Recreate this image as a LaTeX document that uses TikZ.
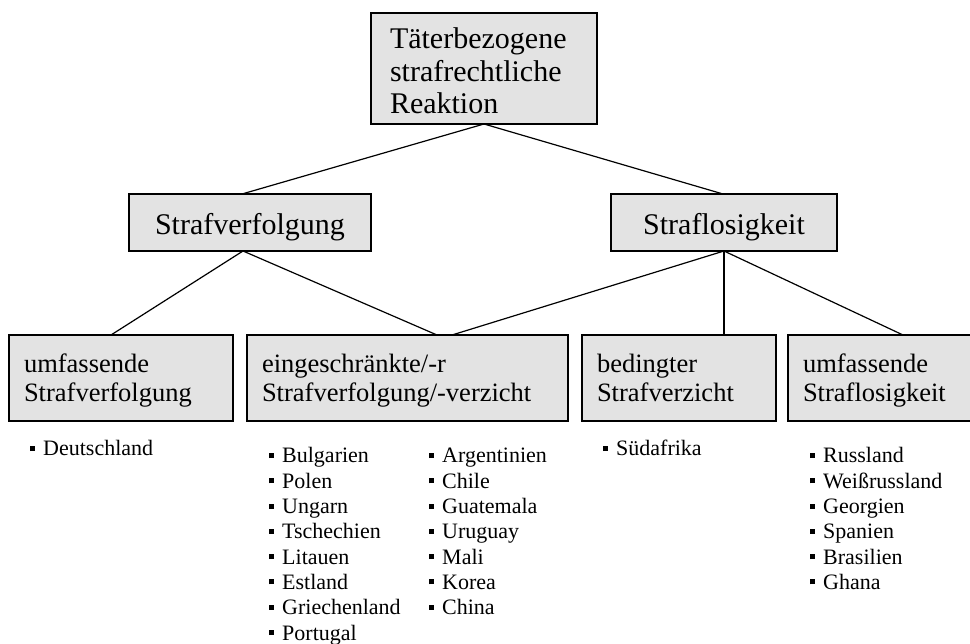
\documentclass[tikz,border=0pt]{standalone}
\usepackage{fontspec}
\setmainfont{Liberation Serif}
\definecolor{boxgray}{HTML}{E3E3E3}
\newcommand\bu{\makebox[13pt][l]{\raisebox{5pt}{\rule{5pt}{5pt}}}}
\begin{document}
\begin{tikzpicture}[x=1pt,y=-1pt,
  box/.style={draw=black, line width=1.3pt, fill=boxgray, inner sep=0pt, outer sep=0pt},
  topbox/.style={box, font=\fontsize{30}{32.5}\selectfont, text width=188pt, inner xsep=19pt,
     align=left, minimum height=111pt, text height=31pt, text depth=70pt},
  midbox/.style={box, font=\fontsize{30}{34}\selectfont, minimum height=57pt,
     text height=25pt, text depth=0pt, align=center},
  lowbox/.style={box, font=\fontsize{26.5}{29}\selectfont, inner xsep=15pt, align=left,
     minimum height=86pt, text height=25pt, text depth=35pt},
  lst/.style={font=\fontsize{22}{25.3}\selectfont, anchor=base west, inner sep=0pt,
     align=left, text width=160pt},
  conn/.style={line width=1.2pt, black}]
\fill[white] (0,0) rectangle (970,644);
\useasboundingbox (0,0) rectangle (970,644);

\node[topbox] (top) at (484,68.5) {Täterbezogene\\strafrechtliche\\Reaktion};
\node[midbox, minimum width=242pt] (sv) at (250,222.5) {Strafverfolgung};
\node[midbox, minimum width=226pt] (sl) at (724,222.5) {Straflosigkeit};

\node[lowbox, text width=194pt] (b1) at (121,378) {umfassende\\Strafverfolgung};
\node[lowbox, text width=291pt] (b2) at (407.5,378) {eingeschränkte/-r\\Strafverfolgung/-verzicht};
\node[lowbox, text width=164pt] (b3) at (679,378) {bedingter\\Strafverzicht};
\node[lowbox, text width=157pt] (b4) at (881.5,378) {umfassende\\Straflosigkeit};

\draw[conn] (top.south) -- ([xshift=-8pt]sv.north);
\draw[conn] (top.south) -- ([xshift=-1pt]sl.north);
\draw[conn] ([xshift=-7pt]sv.south) -- ([xshift=-10pt]b1.north);
\draw[conn] ([xshift=-7pt]sv.south) -- ([xshift=29.5pt]b2.north);
\draw[conn] (sl.south) -- ([xshift=44.5pt]b2.north);
\draw[conn] (sl.south) -- ([xshift=45pt]b3.north);
\draw[conn] (sl.south) -- ([xshift=21.5pt]b4.north);

\node[lst] (l1) at (30,456) {\bu Deutschland};
\node[lst] (l2a) at (269,463) {\bu Bulgarien\\\bu Polen\\\bu Ungarn\\\bu Tschechien\\\bu Litauen\\\bu Estland\\\bu Griechenland\\\bu Portugal};
\node[lst] (l2b) at (429,463) {\bu Argentinien\\\bu Chile\\\bu Guatemala\\\bu Uruguay\\\bu Mali\\\bu Korea\\\bu China};
\node[lst] (l3) at (603,456) {\bu Südafrika};
\node[lst] (l4) at (810,463) {\bu Russland\\\bu Weißrussland\\\bu Georgien\\\bu Spanien\\\bu Brasilien\\\bu Ghana};
\end{tikzpicture}
\end{document}
